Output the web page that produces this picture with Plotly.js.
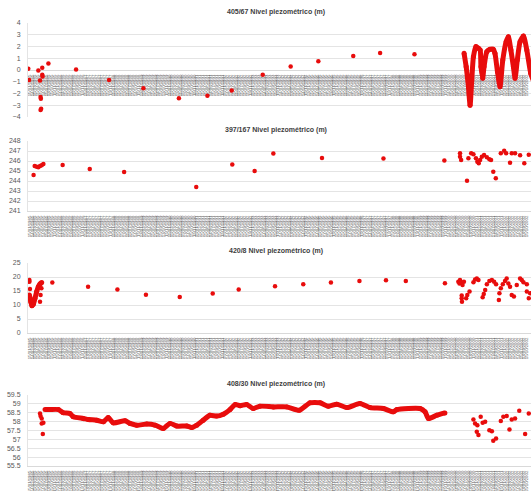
<!DOCTYPE html>
<html>
<head>
<meta charset="utf-8">
<script src="https://cdn.plot.ly/plotly-3.0.1.min.js"></script>
<style>html,body{margin:0;padding:0;overflow:hidden;background:#fff}#chart{width:531px;height:491px}</style>
</head>
<body>
<div id="chart"></div>
<script>
// Category (date) labels of the shared x axis
const dates = [
"15/01/1985","14/02/1985","15/03/1985","15/04/1985","15/05/1985","14/06/1985","15/07/1985","13/09/1985","15/10/1985","15/11/1985",
"15/01/1986","14/02/1986","14/03/1986","15/04/1986","15/05/1986","13/06/1986","15/07/1986","15/09/1986","15/10/1986","14/11/1986",
"15/01/1987","13/02/1987","13/03/1987","15/04/1987","15/05/1987","15/06/1987","15/07/1987","15/09/1987","15/10/1987","13/11/1987",
"15/01/1988","15/02/1988","15/03/1988","15/04/1988","13/05/1988","15/06/1988","15/07/1988","15/09/1988","14/10/1988","15/11/1988",
"13/01/1989","15/02/1989","15/03/1989","14/04/1989","15/05/1989","15/06/1989","14/07/1989","15/09/1989","13/10/1989","15/11/1989",
"15/01/1990","15/02/1990","15/03/1990","13/04/1990","15/05/1990","15/06/1990","13/07/1990","14/09/1990","15/10/1990","15/11/1990",
"15/01/1991","15/02/1991","15/03/1991","15/04/1991","15/05/1991","14/06/1991","15/07/1991","13/09/1991","15/10/1991","15/11/1991",
"15/01/1992","14/02/1992","13/03/1992","15/04/1992","15/05/1992","15/06/1992","15/07/1992","15/09/1992","15/10/1992","13/11/1992",
"15/01/1993","15/02/1993","15/03/1993","15/04/1993","14/05/1993","15/06/1993","15/07/1993","15/09/1993","15/10/1993","15/11/1993",
"14/01/1994","15/02/1994","15/03/1994","15/04/1994","13/05/1994","15/06/1994","15/07/1994","15/09/1994","14/10/1994","15/11/1994",
"13/01/1995","15/02/1995","15/03/1995","14/04/1995","15/05/1995","15/06/1995","14/07/1995","15/09/1995","13/10/1995","15/11/1995",
"15/01/1996","15/02/1996","15/03/1996","15/04/1996","15/05/1996","14/06/1996","15/07/1996","13/09/1996","15/10/1996","15/11/1996",
"15/01/1997","14/02/1997","14/03/1997","15/04/1997","15/05/1997","13/06/1997","15/07/1997","15/09/1997","15/10/1997","14/11/1997",
"15/01/1998","13/02/1998","13/03/1998","15/04/1998","15/05/1998","15/06/1998","15/07/1998","15/09/1998","15/10/1998","13/11/1998",
"15/01/1999","15/02/1999","15/03/1999","15/04/1999","14/05/1999","15/06/1999","15/07/1999","15/09/1999","15/10/1999","15/11/1999",
"14/01/2000","15/02/2000","15/03/2000","14/04/2000","15/05/2000","15/06/2000","14/07/2000","15/09/2000","13/10/2000","15/11/2000",
"15/01/2001","15/02/2001","15/03/2001","13/04/2001","15/05/2001","15/06/2001","13/07/2001","14/09/2001","15/10/2001","15/11/2001",
"15/01/2002","15/02/2002","15/03/2002","15/04/2002","15/05/2002","14/06/2002","15/07/2002","13/09/2002","15/10/2002","15/11/2002"
];

const titles = ["405/67 Nivel piezométrico (m)","397/167 Nivel piezométrico (m)","420/8 Nivel piezométrico (m)","408/30 Nivel piezométrico (m)"];

// 405/67 : isolated readings
const s1x = [0.1,0.4,3.7,4.3,5.1,5.1,5.2,4.5,4.6,4.7,4.5,7.3,17.2,29.0,41.3,54.0,64.2,72.9,84.0,94.0,103.9,116.4,126.0,138.3];
const s1y = [0.1,-0.85,-0.05,-0.9,0.2,-0.4,-0.55,-2.3,-2.45,-3.3,-3.4,0.55,0.05,-0.85,-1.55,-2.4,-2.2,-1.75,-0.4,0.3,0.75,1.2,1.45,1.35];
// 405/67 : continuous record
const s1cx = [156.05,156.8,157.6,158.2,158.8,159.4,160.3,161.2,161.8,162.1,162.7,163.2,164.2,165.3,166.5,167.1,168.0,168.9,169.9,171.1,171.9,172.8,173.7,174.3,175.1,176.1,177.3,178.5,179.9,181.0];
const s1cy = [1.42,0.28,-1.42,-3.0,-0.85,1.13,1.99,1.85,1.7,0.28,-0.71,0.28,1.56,1.76,1.76,1.42,-0.14,-1.42,0.85,2.41,2.84,1.7,0.28,-0.71,0.85,2.41,2.89,1.7,-0.28,-1.0];

// 397/167
const s2x = [2.0,2.4,3.1,3.7,4.3,4.9,5.5,12.4,22.1,34.4,60.2,73.1,81.1,87.8,105.2,127.2,149.0,
  154.6,154.6,155.0,157.1,157.6,158.6,159.4,160.3,160.8,161.3,161.8,162.4,163.2,164.2,165.1,165.7,166.5,167.4,169.2,170.4,171.1,172.5,173.1,174.3,176.1,177.6,179.2];
const s2y = [244.6,245.5,245.43,245.37,245.5,245.57,245.7,245.6,245.2,244.9,243.4,245.65,245.0,246.75,246.3,246.25,246.05,
  246.77,246.43,246.1,244.03,246.27,246.77,246.67,246.27,245.93,245.77,246.1,246.43,246.6,246.37,246.17,246.1,244.93,244.27,246.77,247.03,246.77,245.83,246.77,246.77,246.57,245.77,246.63];

// 420/8 : early continuous stretch
const s3cx = [0.5,1.0,1.4,1.9,2.5,3.1,3.7,4.3,4.9];
const s3cy = [13.6,11.2,9.75,10.25,12.4,14.75,16.5,17.5,18.0];
// 420/8 : other readings
const s3x = [0.5,0.5,0.7,4.3,4.5,4.8,8.7,21.5,32.0,42.2,54.3,66.1,75.4,88.4,98.5,108.4,118.6,128.1,135.2,149.2,
  154.0,154.6,155.0,154.4,155.5,156.0,155.2,155.2,155.3,156.8,157.2,158.0,
  159.4,160.0,160.6,161.2,
  162.7,163.1,163.6,164.2,165.1,166.0,166.8,167.5,
  168.5,168.7,169.2,169.9,170.7,171.3,171.9,172.5,
  173.1,173.9,174.9,176.1,176.7,177.3,178.5,
  178.5,179.2,179.7];
const s3y = [18.9,18.3,15.7,11.2,13.6,16.0,18.0,16.5,15.5,13.7,12.9,14.1,15.5,16.7,17.4,18.0,18.6,18.8,18.6,17.75,
  18.3,18.9,18.1,17.7,17.1,18.3,13.4,12.4,11.2,12.4,13.6,14.8,
  18.1,19.1,19.5,18.9,
  12.8,13.9,15.4,17.4,18.6,18.9,18.3,17.4,
  11.8,14.2,16.0,17.4,18.6,19.5,17.7,16.5,
  13.6,13.0,17.1,19.5,18.9,18.1,17.4,
  14.8,12.4,14.2];

// 408/30 : early readings
const s4ax = [4.3,4.5,4.9,4.9,5.5,5.3];
const s4ay = [58.46,58.31,58.18,57.9,57.93,57.3];
// 408/30 : continuous record
const s4cx = [6.1,7.9,10.9,12.6,15.0,16.2,19.8,21.6,24.6,27.0,28.7,30.5,34.7,36.5,38.9,42.5,45.5,48.4,50.8,53.2,56.8,58.6,60.4,62.7,65.1,67.5,69.9,72.3,74.1,75.9,78.3,80.6,83.0,87.8,92.6,97.1,100.9,104.5,107.5,110.5,114.1,118.8,122.4,127.2,130.7,132.0,140.3,142.1,143.3,146.3,149.2];
const s4cy = [58.68,58.68,58.68,58.5,58.46,58.27,58.18,58.12,58.08,57.99,58.23,57.93,58.05,57.9,57.8,57.86,57.8,57.61,57.9,57.75,57.75,57.67,57.8,58.08,58.36,58.31,58.42,58.68,58.96,58.9,58.96,58.74,58.87,58.83,58.83,58.64,59.06,59.06,58.87,58.98,58.79,59.02,58.79,58.74,58.55,58.68,58.74,58.55,58.18,58.36,58.49];
// 408/30 : later readings
const s4bx = [159.4,160.0,160.8,162.0,162.7,163.6,160.6,161.2,165.1,166.0,166.5,167.5,169.2,170.1,171.3,172.3,173.1,174.3,175.8,177.9,179.2];
const s4by = [58.12,57.9,57.8,58.27,57.93,57.99,57.43,57.24,57.52,57.46,56.92,57.05,58.04,58.27,58.31,57.56,58.12,58.18,58.61,57.3,58.46];

const RED = '#e80c0c';
const H = 491;
const frac = py => 1 - py / H;

function dots(x, y, xa, ya) {
  return {x, y, xaxis: xa, yaxis: ya, type: 'scatter', mode: 'markers',
    marker: {color: RED, size: 4.5}, hoverinfo: 'skip'};
}
function curve(x, y, xa, ya) {
  return {x, y, xaxis: xa, yaxis: ya, type: 'scatter', mode: 'lines+markers',
    line: {color: RED, width: 5, shape: 'spline', smoothing: 0.6},
    marker: {color: RED, size: 5}, hoverinfo: 'skip'};
}

const data = [
  dots(s1x, s1y, 'x', 'y'), curve(s1cx, s1cy, 'x', 'y'),
  dots(s2x, s2y, 'x2', 'y2'),
  curve(s3cx, s3cy, 'x3', 'y3'), dots(s3x, s3y, 'x3', 'y3'),
  dots(s4ax, s4ay, 'x4', 'y4'), curve(s4cx, s4cy, 'x4', 'y4'), dots(s4bx, s4by, 'x4', 'y4')
];

const tickvals = dates.map((d, i) => i + 0.5);
const FONT = 'Liberation Sans, Arial, sans-serif';
function xax(extra) {
  return Object.assign({
    range: [0, 180], tickmode: 'array', tickvals, ticktext: dates, tickangle: -90,
    tickfont: {size: 4.3, color: '#595959', family: FONT}, showgrid: false, zeroline: false,
    showline: true, linecolor: '#d9d9d9', linewidth: 1, ticks: '', layer: 'below traces',
    ticklabelstandoff: 2, fixedrange: true
  }, extra);
}
function yax(range, dtick, dom, anchor) {
  return {
    range, dtick, tick0: range[0], domain: dom, anchor,
    showgrid: true, gridcolor: '#e4e4e4', gridwidth: 1, zeroline: false,
    showline: true, linecolor: '#e4e4e4', ticks: '', ticklabelstandoff: 5,
    tickfont: {size: 7, color: '#595959', family: FONT}, fixedrange: true
  };
}

const d1 = [frac(117), frac(23)], d2 = [frac(211), frac(141)], d3 = [frac(333), frac(263)], d4 = [frac(466), frac(395)];
const y0pos = frac(70);

const titleY = [12, 130, 251, 384];
const annotations = titles.map((t, i) => ({
  text: '<b>' + t + '</b>', xref: 'paper', yref: 'paper', x: 0.493, y: frac(titleY[i]),
  xanchor: 'center', yanchor: 'middle', showarrow: false,
  font: {size: 7, color: '#404040', family: FONT}
}));

const layout = {
  width: 531, height: 491, margin: {l: 28, r: 0, t: 0, b: 0},
  paper_bgcolor: '#ffffff', plot_bgcolor: '#ffffff', showlegend: false,
  font: {family: FONT},
  xaxis: xax({anchor: 'free', position: y0pos}),
  xaxis2: xax({anchor: 'y2'}),
  xaxis3: xax({anchor: 'y3'}),
  xaxis4: xax({anchor: 'y4'}),
  yaxis: yax([-4, 4], 1, d1, 'x'),
  yaxis2: yax([241, 248], 1, d2, 'x2'),
  yaxis3: yax([0, 25], 5, d3, 'x3'),
  yaxis4: yax([55.5, 59.5], 0.5, d4, 'x4'),
  annotations, hovermode: false
};

Plotly.newPlot('chart', data, layout, {staticPlot: true, displayModeBar: false});
</script>
</body>
</html>
